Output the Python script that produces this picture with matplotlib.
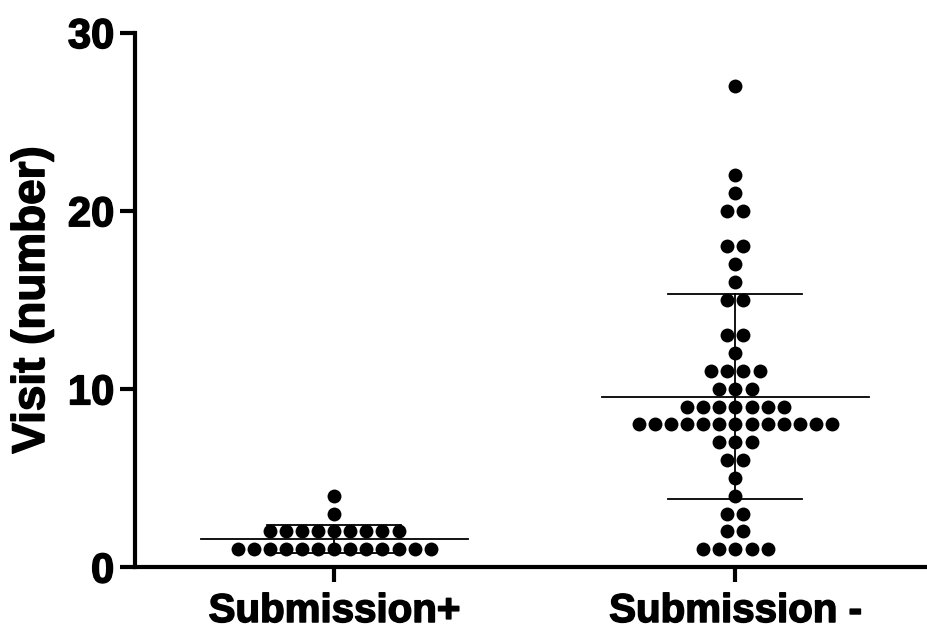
import numpy as np
import matplotlib.pyplot as plt
import matplotlib.patheffects as pe

plt.rcParams['font.family'] = ['Liberation Sans', 'DejaVu Sans']
plt.rcParams['font.weight'] = 'bold'

groups = ['Submission+', 'Submission -']

# visit value -> number of dots at that value
sub_pos_values = [1, 2, 3, 4]
sub_pos_counts = [13, 9, 1, 1]

sub_neg_values = [1, 2, 3, 4, 5, 6, 7, 8, 9, 10, 11, 12, 13, 15, 16, 17, 18, 20, 21, 22, 27]
sub_neg_counts = [5, 2, 2, 1, 1, 2, 3, 13, 7, 3, 4, 1, 2, 2, 1, 1, 2, 2, 1, 1, 1]

fig = plt.figure(figsize=(9.28, 6.29), dpi=100)
ax = fig.add_axes([135 / 928, 62 / 629, 793 / 928, 534.5 / 629])

step = 0.04
for gx, (vals, cnts) in enumerate([(sub_pos_values, sub_pos_counts),
                                    (sub_neg_values, sub_neg_counts)]):
    xs, ys = [], []
    for v, n in zip(vals, cnts):
        for i in range(n):
            xs.append(gx + (i - (n - 1) / 2) * step)
            ys.append(v)
    data = np.repeat(vals, cnts)
    m = data.mean()
    sd = data.std(ddof=1)
    ax.scatter(xs, ys, s=100, color='black', zorder=3, linewidths=0, clip_on=False)
    ax.plot([gx - 0.333, gx + 0.333], [m, m], color='black', lw=1.3, zorder=2)
    ax.plot([gx - 0.167, gx + 0.167], [m + sd, m + sd], color='black', lw=1.3, zorder=2)
    ax.plot([gx - 0.167, gx + 0.167], [m - sd, m - sd], color='black', lw=1.3, zorder=2)
    ax.plot([gx, gx], [m - sd, m + sd], color='black', lw=1.3, zorder=2)

ax.set_xlim(-0.497, 1.48)
ax.set_ylim(0, 30)
ax.set_yticks([0, 10, 20, 30])
ax.set_xticks([0, 1])
ax.set_xticklabels(groups)
ax.set_ylabel('Visit (number)', fontsize=33, fontweight='bold', labelpad=10)

for side in ['top', 'right']:
    ax.spines[side].set_visible(False)
for side in ['left', 'bottom']:
    ax.spines[side].set_linewidth(3)
ax.tick_params(axis='both', width=3, length=11, direction='out')
ax.tick_params(axis='y', pad=4, labelsize=30)
ax.tick_params(axis='x', pad=7, labelsize=29)

heavy = [pe.withStroke(linewidth=1.1, foreground='black')]
for t in ax.get_xticklabels() + ax.get_yticklabels() + [ax.yaxis.label]:
    t.set_path_effects(heavy)

fig.savefig('out.png', dpi=100)
